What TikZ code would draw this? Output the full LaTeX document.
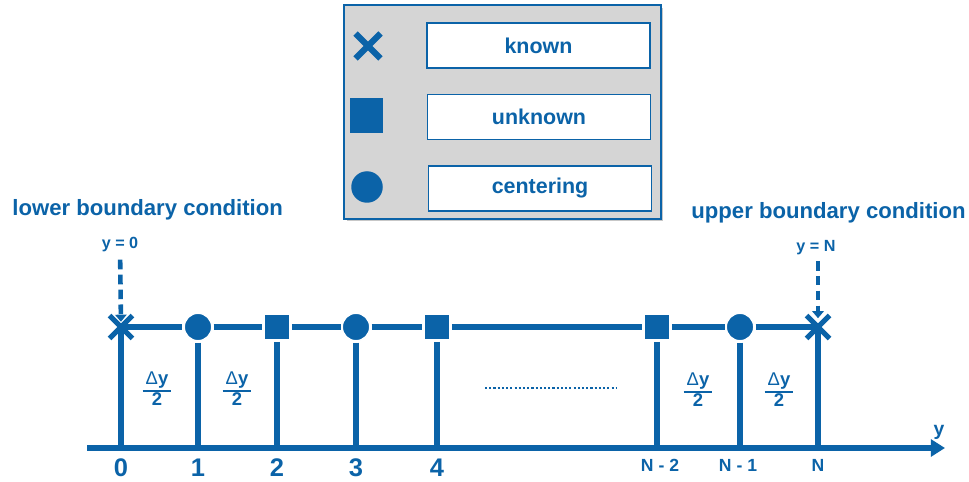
\documentclass[tikz,border=0pt]{standalone}
\usepackage{fontspec}
\setmainfont{Liberation Sans}
\usetikzlibrary{shapes.misc,arrows.meta}

\definecolor{meshblue}{HTML}{0B63A8}
\definecolor{panelgray}{HTML}{D5D5D5}

\tikzset{
    knownpt/.style={cross out, draw=meshblue, line width=3pt, minimum size=0.46cm, inner sep=0pt, outer sep=0pt},
    unknownpt/.style={rectangle, fill=meshblue, draw=white, line width=0.8pt, minimum size=0.52cm, inner sep=0pt, outer sep=1pt},
    centerpt/.style={circle, fill=meshblue, draw=white, line width=0.8pt, minimum size=0.55cm, inner sep=0pt, outer sep=1pt},
    gridline/.style={draw=meshblue, line width=3.5pt},
    stemline/.style={draw=meshblue, line width=3pt},
    axisline/.style={draw=meshblue, line width=3.8pt, -{Triangle[length=8pt, width=9.5pt]}},
    bcarrow/.style={draw=meshblue, line width=2.6pt, dash pattern=on 5.5pt off 3pt, -{Triangle[length=4pt, width=6.5pt]}},
    title/.style={text=meshblue, font=\fontsize{12.6}{15}\selectfont\bfseries, inner sep=0pt},
    cellbox/.style={draw=meshblue, fill=white, line width=0.9pt, minimum width=4.46cm, minimum height=0.9cm,
        text=meshblue, font=\fontsize{12.2}{14}\selectfont\bfseries},
    numlabel/.style={text=meshblue, font=\fontsize{14.5}{16}\selectfont\bfseries, inner sep=0pt},
    nlabel/.style={text=meshblue, font=\fontsize{10}{12}\selectfont\bfseries, inner sep=0pt},
    bclabel/.style={text=meshblue, font=\fontsize{9.2}{11}\selectfont\bfseries, inner sep=0pt},
    halflabel/.style={text=meshblue, font=\fontsize{10.5}{12}\selectfont\bfseries, inner sep=0pt},
}

\newcommand{\halfdy}{\setlength{\arrayrulewidth}{1.1pt}\renewcommand{\arraystretch}{0.92}%
    \begin{tabular}{@{\,}c@{\,}}{\mdseries Δ}y\\\hline 2\end{tabular}}

\begin{document}
\begin{tikzpicture}[x=0.02cm, y=-0.02cm]
        \useasboundingbox (0,0) rectangle (969,482);

        \node[minimum width=6.34cm, minimum height=4.28cm, fill=black!22, inner sep=0pt] (legendshadow) at (505,114.5) {};
        \node[minimum width=6.34cm, minimum height=4.28cm, fill=panelgray, draw=meshblue, line width=0.8pt, inner sep=0pt] (legend) at (502.5,112) {};
        \node[cellbox] (cellknown) at (538.5,45.5) {known};
        \node[cellbox] (cellunknown) at (539,117) {unknown};
        \node[cellbox] (cellcenter) at (540,188.5) {centering};
        \node[knownpt, line width=3.5pt, minimum size=0.5cm] (keyknown) at (368,46) {};
        \node[unknownpt, draw=none, minimum width=0.66cm, minimum height=0.7cm] (keyunknown) at (366.5,115.5) {};
        \node[centerpt, draw=none, minimum size=0.63cm] (keycenter) at (367,187) {};

        \node[title, anchor=west] (lowerbc) at (12,210) {lower boundary condition};
        \node[title, anchor=east] (upperbc) at (966,213) {upper boundary condition};

        \coordinate (axstart) at (87,448);
        \coordinate (axend) at (945,448);
        \coordinate (a0) at (121,448);
        \coordinate (a1) at (198,448);
        \coordinate (a2) at (277,448);
        \coordinate (a3) at (356,448);
        \coordinate (a4) at (437,448);
        \coordinate (aN2) at (657,448);
        \coordinate (aN1) at (740,448);
        \coordinate (aN) at (818,448);

        \node[knownpt] (p0) at (121,327) {};
        \node[centerpt] (p1) at (198,327) {};
        \node[unknownpt] (p2) at (277,327) {};
        \node[centerpt] (p3) at (356,327) {};
        \node[unknownpt] (p4) at (437,327) {};
        \node[unknownpt] (pN2) at (657,327) {};
        \node[centerpt] (pN1) at (740,327) {};
        \node[knownpt] (pN) at (818,327) {};

        \draw[gridline] (p0.center) -- (p1) -- (p2) -- (p3) -- (p4) -- (pN2) -- (pN1) -- (pN.center);

        \draw[stemline] (p0.center) -- (a0);
        \draw[stemline] (p1) -- (a1);
        \draw[stemline] (p2) -- (a2);
        \draw[stemline] (p3) -- (a3);
        \draw[stemline] (p4) -- (a4);
        \draw[stemline] (pN2) -- (aN2);
        \draw[stemline] (pN1) -- (aN1);
        \draw[stemline] (pN.center) -- (aN);

        \draw[axisline] (axstart) -- (axend);
        \node[nlabel, font=\fontsize{11}{13}\selectfont\bfseries] (yaxis) at (939,432) {y};

        \node[bclabel] (ylow) at (120,245) {y = 0};
        \node[bclabel] (yhigh) at (816,248) {y = N};
        \draw[bcarrow, shorten <=4pt, shorten >=3pt] (ylow) -- (p0.center);
        \draw[bcarrow, shorten <=3pt, shorten >=5pt] (yhigh.south -| pN) -- (pN.center);

        \node[halflabel] (half01) at (157,391) {\halfdy};
        \node[halflabel] (half12) at (237,391) {\halfdy};
        \node[halflabel] (halfN21) at (698,392) {\halfdy};
        \node[halflabel] (halfN1N) at (779,392) {\halfdy};

        \coordinate (dotsstart) at (485,388);
        \coordinate (dotsend) at (617,388);
        \draw[draw=meshblue, line width=1.4pt, dash pattern=on 1.2pt off 1.2pt] (dotsstart) -- (dotsend);

        \node[numlabel] (l0) at (121,468) {0};
        \node[numlabel] (l1) at (198,468) {1};
        \node[numlabel] (l2) at (277,468) {2};
        \node[numlabel] (l3) at (356,468) {3};
        \node[numlabel] (l4) at (437,468) {4};
        \node[nlabel] (lN2) at (660,465) {N - 2};
        \node[nlabel] (lN1) at (738,465) {N - 1};
        \node[nlabel] (lN) at (818,465) {N};
    \end{tikzpicture}
\end{document}
